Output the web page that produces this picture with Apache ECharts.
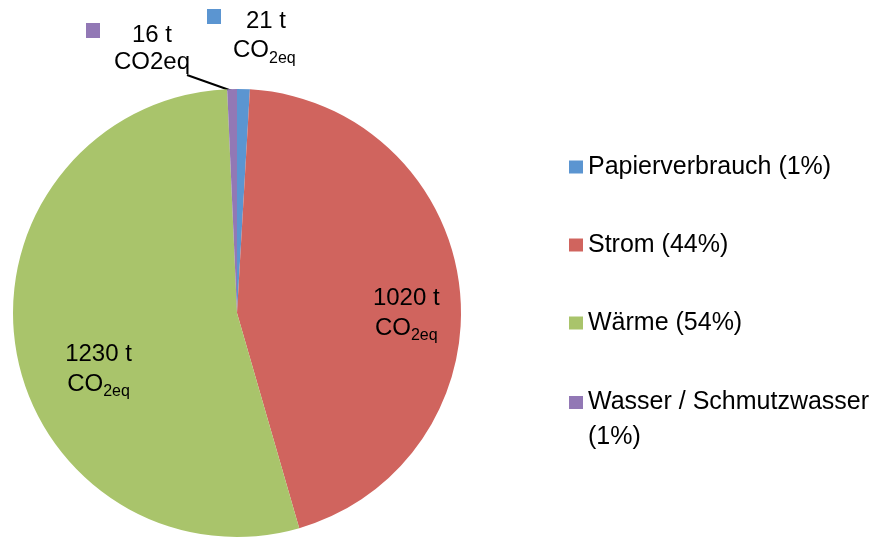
<!DOCTYPE html>
<html>
<head>
<meta charset="utf-8">
<script src="https://cdn.jsdelivr.net/npm/echarts@6/dist/echarts.min.js"></script>
<style>
  html, body { margin: 0; padding: 0; background: #ffffff; }
  #chart { width: 887px; height: 539px; }
</style>
</head>
<body>
<div id="chart"></div>
<script>
// Daten (Tonnen CO2eq je Quelle)
const categories = ['Papierverbrauch', 'Strom', 'Wärme', 'Wasser / Schmutzwasser'];
const emissions = [21, 1020, 1230, 16];
const shares = [1, 44, 54, 1];
const colors = ['#5b95d1', '#d0645e', '#a9c46b', '#9278b5'];

const FONT = '"Liberation Sans", Arial, sans-serif';
const CENTER = [237, 313];
const RADIUS = 224;

const chart = echarts.init(document.getElementById('chart'), null, { renderer: 'canvas' });

// Beschriftung je Segment
function labelText(i) {
  const v = emissions[i] + ' t';
  if (i === 0) return '{sq0| }{g| }{n0|' + v + '}\n{pad| }{c2|CO}{s2|2eq}';
  if (i === 3) return '{sq3| }{g| }{n3|' + v + '}\n{pad| }{w2|CO2eq}';
  return v + '\n{c|CO}{s|2eq}';
}

// Punkt am Rand des Segments (Mitte des Bogens)
function edgePoint(i) {
  const total = emissions.reduce((a, b) => a + b, 0);
  const before = emissions.slice(0, i).reduce((a, b) => a + b, 0);
  const ang = (90 - (before + emissions[i] / 2) / total * 360) * Math.PI / 180;
  return [CENTER[0] + (RADIUS - 2) * Math.cos(ang), CENTER[1] - (RADIUS - 2) * Math.sin(ang)];
}

const legendText = {
  fontFamily: FONT,
  fontSize: 25,
  color: '#000',
  lineHeight: 30
};

const option = {
  backgroundColor: '#ffffff',
  color: colors,
  legend: [
    {
      data: categories.slice(0, 3),
      orient: 'vertical',
      left: 564,
      top: 147,
      icon: 'rect',
      itemWidth: 14,
      itemHeight: 13,
      itemGap: 48,
      selectedMode: false,
      textStyle: legendText,
      formatter: name => name + ' (' + shares[categories.indexOf(name)] + '%)'
    },
    {
      data: categories.slice(3),
      orient: 'vertical',
      left: 564,
      top: 345,
      icon: 'rect',
      itemWidth: 14,
      itemHeight: 13,
      selectedMode: false,
      textStyle: Object.assign({}, legendText, {
        lineHeight: 35,
        rich: { e: { lineHeight: 35, fontSize: 25 } }
      }),
      formatter: name => '{e| }\n' + name + '\n(' + shares[categories.indexOf(name)] + '%)'
    }
  ],
  series: [
    {
      type: 'pie',
      center: CENTER,
      radius: RADIUS,
      startAngle: 90,
      clockwise: true,
      avoidLabelOverlap: false,
      animation: false,
      itemStyle: { borderWidth: 0 },
      emphasis: { disabled: true },
      data: categories.map((name, i) => ({
        name: name,
        value: emissions[i],
        label: {
          position: (i === 1 || i === 2) ? 'inside' : 'outside',
          formatter: () => labelText(i)
        },
        labelLine: { show: i === 3 }
      })),
      label: {
        show: true,
        color: '#000',
        fontFamily: FONT,
        fontSize: 24,
        lineHeight: 30,
        rich: {
          c: { fontFamily: FONT, fontSize: 24, lineHeight: 30, color: '#000' },
          s: { fontFamily: FONT, fontSize: 16, lineHeight: 14, color: '#000', verticalAlign: 'bottom' },
          c2: { fontFamily: FONT, fontSize: 24, lineHeight: 34, color: '#000' },
          s2: { fontFamily: FONT, fontSize: 16, lineHeight: 18, color: '#000', verticalAlign: 'bottom' },
          n0: { fontFamily: FONT, fontSize: 24, lineHeight: 24, color: '#000', width: 66, align: 'center' },
          n3: { fontFamily: FONT, fontSize: 24, lineHeight: 24, color: '#000', width: 80, align: 'center' },
          w2: { fontFamily: FONT, fontSize: 24, lineHeight: 30, color: '#000', width: 80, align: 'center' },
          sq0: { width: 14, height: 15, lineHeight: 24, backgroundColor: colors[0], verticalAlign: 'top' },
          sq3: { width: 14, height: 15, lineHeight: 24, backgroundColor: colors[3], verticalAlign: 'top' },
          g: { width: 12, lineHeight: 24 },
          pad: { width: 26, lineHeight: 30 }
        }
      },
      labelLine: {
        lineStyle: { color: '#000', width: 2 }
      },
      labelLayout: function (params) {
        const i = params.dataIndex;
        if (i === 1) return { dx: 55, dy: 13 };
        if (i === 2) return { dx: -25, dy: 38 };
        if (i === 0) return { x: 207, y: 9, align: 'left', verticalAlign: 'top' };
        // Wasser: Führungslinie vom Segmentrand zur Beschriftung
        const x = 86, y = 23;
        const end = [x + 101, y + 52];
        const start = edgePoint(i);
        return {
          x: x, y: y, align: 'left', verticalAlign: 'top',
          labelLinePoints: [start, [(start[0] + end[0]) / 2, (start[1] + end[1]) / 2], end]
        };
      }
    }
  ]
};

chart.setOption(option);
</script>
</body>
</html>
